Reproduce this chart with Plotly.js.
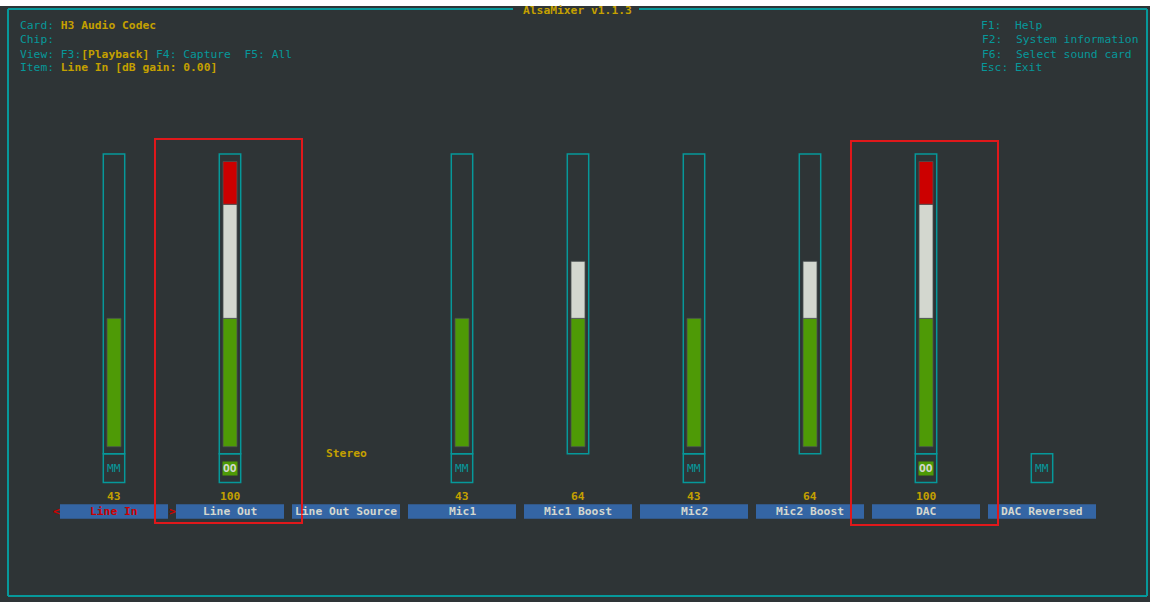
<!DOCTYPE html>
<html><head><meta charset="utf-8">
<script src="https://cdn.plot.ly/plotly-3.0.1.min.js"></script>
<style>html,body{margin:0;padding:0;background:#2e3436;overflow:hidden}</style>
</head><body><div id="chart" style="width:1150px;height:602px"></div>
<script>
// ---- data ----
const controls = ['Line In','Line Out','Line Out Source','Mic1','Mic1 Boost','Mic2','Mic2 Boost','DAC','DAC Reversed'];
const volumes = [43,100,null,43,64,43,64,100,null];
const switchState = ['MM','OO',null,'MM',null,'MM',null,'OO','MM'];
const enumValue = [null,null,'Stereo',null,null,null,null,null,null];
const selectedIndex = 0;
const highlightedIndex = [1,7];
const appTitle = 'AlsaMixer v1.1.3';
const headerLeft = [
  ['Card:', ' ', 'H3 Audio Codec', ''],
  ['Chip:', '', '', ''],
  ['View: F3:', '', '[Playback]', ' F4: Capture  F5: All'],
  ['Item:', ' ', 'Line In [dB gain: 0.00]', '']
];
const headerRight = ['F1:  Help','F2:  System information','F6:  Select sound card','Esc: Exit'];

// ---- style ----
const BG='#2e3436', TEAL='#06989a', YEL='#c4a000', LIGHT='#d3d7cf', GREEN='#4e9a06', RED='#cc0000', BLUE='#3465a4', HL='#e0181b';
const FONT='DejaVu Sans Mono', FS=11.3;
const ROWS=20, GREEN_TOP=9, WHITE_TOP=17;
const W=1150, H=602;
const nb = s => s.replace(/ /g,'\u00a0');

const idx = controls.map((_,i)=>i);
const nrows = volumes.map(v => v===null ? null : Math.round(v/100*ROWS));
const seg = (lo,hi) => nrows.map(n => { if(n===null) return null; const h=Math.min(n,hi)-lo; return h>0?h:null; });

const barW = 0.1207;
const traces = [
  {type:'bar', x:idx, y:seg(0,GREEN_TOP), base:0, width:barW, marker:{color:GREEN, line:{color:'#4b5052', width:0.8}}, hoverinfo:'skip'},
  {type:'bar', x:idx, y:seg(GREEN_TOP,WHITE_TOP), base:GREEN_TOP, width:barW, marker:{color:LIGHT, line:{color:'#4b5052', width:0.8}}, hoverinfo:'skip'},
  {type:'bar', x:idx, y:seg(WHITE_TOP,ROWS), base:WHITE_TOP, width:barW, marker:{color:RED, line:{color:'#4b5052', width:0.8}}, hoverinfo:'skip'},
  {type:'bar', x:idx, y:idx.map(()=>1.01), base:-5.05, width:0.931, marker:{color:BLUE, line:{width:0}}, hoverinfo:'skip'}
];

const shapes = [];
const px = x => x/W, py = y => 1-y/H;
// white strip at top of screenshot
shapes.push({type:'rect', xref:'paper', yref:'paper', x0:0, x1:1, y0:py(6), y1:1, fillcolor:'#ffffff', line:{width:0}, layer:'below'});
// outer border (top line split around title)
const L=(x0,y0,x1,y1)=>shapes.push({type:'line', xref:'paper', yref:'paper', x0:px(x0), y0:py(y0), x1:px(x1), y1:py(y1), line:{color:TEAL, width:2}});
L(8,9,8,596); L(1147,9,1147,596); L(8,596,1147,596); L(8,9,513,9); L(639,9,1147,9);
const fw = 0.0922;
idx.forEach(i => {
  if (volumes[i] !== null) shapes.push({type:'rect', xref:'x', yref:'y', x0:i-fw, x1:i+fw, y0:-0.5, y1:ROWS+0.53, line:{color:TEAL, width:1.5}});
  if (switchState[i] !== null) shapes.push({type:'rect', xref:'x', yref:'y', x0:i-fw, x1:i+fw, y0:-2.51, y1:-0.5, line:{color:TEAL, width:1.5}});
});
highlightedIndex.forEach((i,k) => {
  const dy = k===0 ? 0 : -0.14;
  shapes.push({type:'rect', xref:'x', yref:'y', x0:i-0.6466, x1:i+0.6207, y0:-5.35+dy, y1:21.58+dy, line:{color:HL, width:2}});
});

const ann = [];
const A = o => ann.push(Object.assign({showarrow:false, font:{family:FONT, size:FS, color:TEAL}}, o));
// title
A({xref:'paper', yref:'paper', x:px(577.5), y:py(11), xanchor:'center', yanchor:'middle', text:'<b>'+nb(appTitle)+'</b>', font:{family:FONT,size:FS,color:YEL}});
// header left
headerLeft.forEach((r,k) => {
  let t = '<span style="color:'+TEAL+'">'+nb(r[0]+r[1])+'</span>';
  if (r[2]) t += '<span style="color:'+YEL+'"><b>'+nb(r[2])+'</b></span>';
  if (r[3]) t += '<span style="color:'+TEAL+'">'+nb(r[3])+'</span>';
  A({xref:'paper', yref:'paper', x:px(17.5), y:py(26+14*k), xanchor:'left', yanchor:'middle', text:t});
});
headerRight.forEach((r,k) => {
  A({xref:'paper', yref:'paper', x:px(979.5), y:py(26+14*k), xanchor:'left', yanchor:'middle', text:nb(r)});
});
// per-control texts
idx.forEach(i => {
  A({xref:'x', yref:'y', x:i, y:-4.54, xanchor:'center', yanchor:'middle', text:'<b>'+nb(controls[i])+'</b>', font:{family:FONT,size:FS,color: i===selectedIndex?RED:LIGHT}});
  if (volumes[i] !== null) A({xref:'x', yref:'y', x:i, y:-3.46, xanchor:'center', yanchor:'middle', text:'<b>'+volumes[i]+'</b>', font:{family:FONT,size:FS,color:YEL}});
  if (switchState[i] === 'MM') A({xref:'x', yref:'y', x:i, y:-1.5, xanchor:'center', yanchor:'middle', text:'MM', font:{family:FONT,size:FS,color:TEAL}});
  if (switchState[i] === 'OO') A({xref:'x', yref:'y', x:i, y:-1.5, xanchor:'center', yanchor:'middle', text:'<b>OO</b>', font:{family:FONT,size:FS,color:LIGHT}, bgcolor:GREEN, borderpad:0});
  if (enumValue[i] !== null) A({xref:'x', yref:'y', x:i, y:-0.51, xanchor:'center', yanchor:'middle', text:'<b>'+enumValue[i]+'</b>', font:{family:FONT,size:FS,color:YEL}});
});
A({xref:'x', yref:'y', x:selectedIndex-0.5, y:-4.54, xanchor:'center', yanchor:'middle', text:'<b>&lt;</b>', font:{family:FONT,size:FS,color:RED}});
A({xref:'x', yref:'y', x:selectedIndex+0.5, y:-4.54, xanchor:'center', yanchor:'middle', text:'<b>&gt;</b>', font:{family:FONT,size:FS,color:RED}});

const layout = {
  width:W, height:H, margin:{l:0,r:0,t:0,b:0,pad:0},
  paper_bgcolor:BG, plot_bgcolor:BG, showlegend:false, barmode:'overlay',
  font:{family:FONT, size:FS, color:TEAL},
  xaxis:{range:[-114/116, (W-114)/116], visible:false, fixedrange:true},
  yaxis:{range:[(446.7-H)/14.26, 446.7/14.26], visible:false, fixedrange:true},
  shapes:shapes, annotations:ann
};
Plotly.newPlot('chart', traces, layout, {staticPlot:true, displayModeBar:false});
</script></body></html>
